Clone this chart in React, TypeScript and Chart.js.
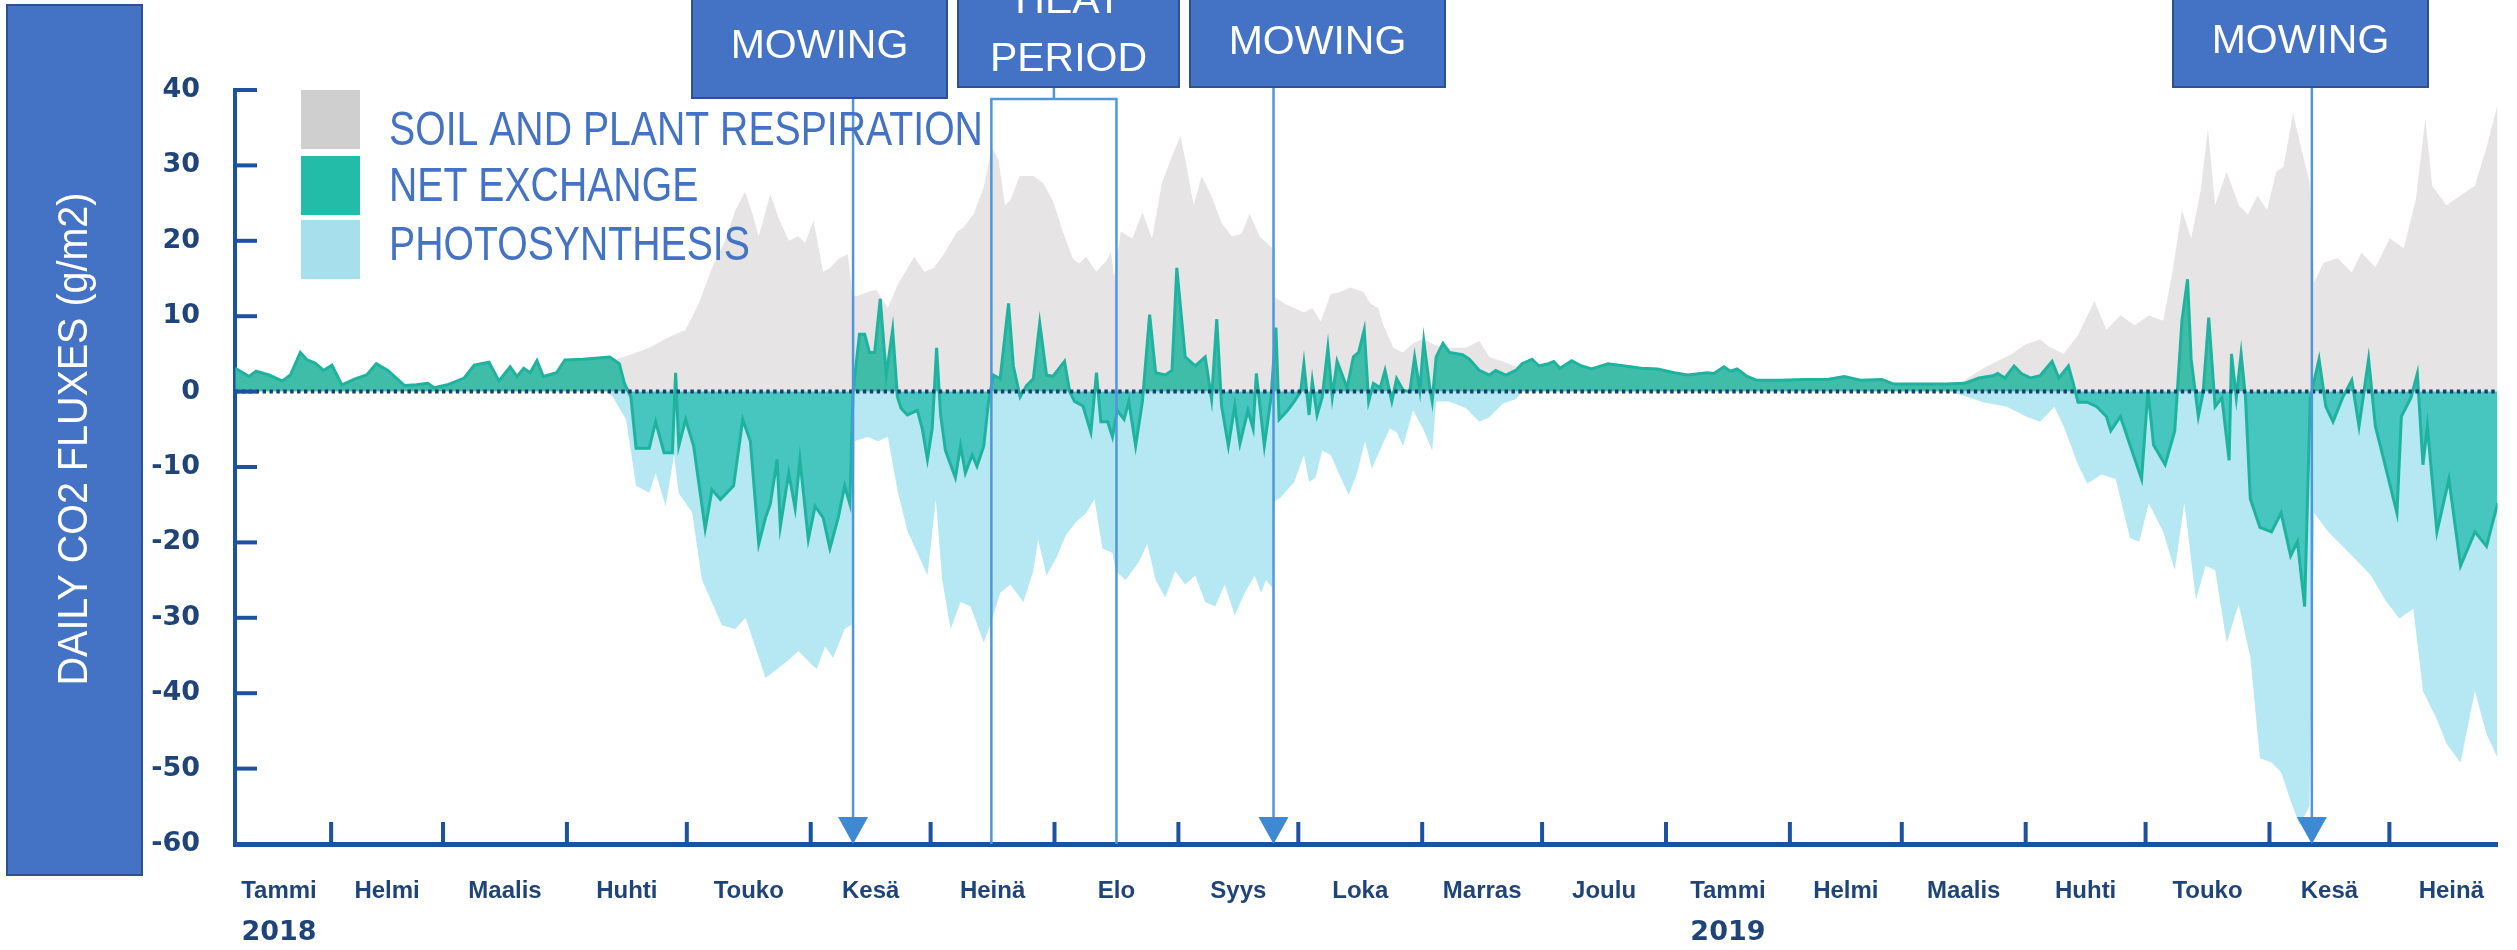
import React, { useEffect, useRef } from 'react';
import { Chart, registerables } from 'chart.js';

Chart.register(...registerables);

// x = day number counted from 1 Jan 2018 (day 0), y = g CO2 / m2 per day
const netExchange: [number, number][] = [
  [7.0, 3.1], [10.5, 2.0], [12.2, 2.7], [15.5, 2.2], [18.8, 1.4], [20.8, 2.2], [23.3, 5.2], [25.0, 4.2], [27.0, 3.8],
  [29.1, 2.8], [31.2, 3.5], [33.7, 0.9], [37.0, 1.7], [39.9, 2.2], [42.3, 3.7], [45.2, 2.8], [49.4, 0.8], [52.3, 0.9],
  [55.2, 1.1], [56.8, 0.5], [60.1, 0.9], [64.3, 1.8], [66.8, 3.5], [70.5, 3.9], [73.0, 1.4], [75.8, 3.3], [77.5, 2.0],
  [79.2, 3.1], [80.8, 2.5], [82.5, 4.1], [84.1, 2.0], [87.4, 2.5], [89.5, 4.2], [94.0, 4.3], [100.7, 4.6], [103.1, 3.7],
  [104.4, 1.1], [106.0, -0.7], [107.3, -7.5], [110.6, -7.5], [112.2, -4.0], [114.3, -8.1], [116.4, -8.1], [117.2, 2.5],
  [118.0, -7.2], [119.7, -3.7], [121.7, -7.2], [124.6, -18.2], [126.3, -13.0], [128.4, -14.3], [131.7, -12.5],
  [134.0, -3.7], [135.9, -6.6], [138.0, -20.2], [139.7, -16.7], [140.9, -14.9], [142.6, -9.0], [143.4, -17.9],
  [145.5, -10.8], [147.1, -15.5], [148.3, -9.0], [150.4, -19.6], [152.1, -15.2], [154.1, -16.7], [155.8, -20.8],
  [157.9, -16.7], [159.5, -12.5], [160.8, -14.9], [161.6, 0], [163.2, 7.6], [164.5, 7.6], [165.7, 5.2], [167.0, 5.2],
  [168.4, 12.3], [169.9, 2.2], [171.5, 8.2], [172.7, -0.7], [173.6, -2.2], [175.2, -3.1], [177.7, -2.5], [178.9, -4.9],
  [180.2, -9.0], [181.4, -4.9], [182.5, 5.8], [183.5, -3.1], [184.7, -7.8], [187.2, -11.4], [188.5, -7.2], [189.7, -10.8],
  [191.4, -8.4], [192.6, -9.9], [194.3, -7.2], [195.5, -1.3], [196.7, 2.2], [198.4, 1.7], [200.5, 11.7], [201.7, 3.4],
  [203.4, -0.7], [205.0, 0.8], [206.7, 1.7], [208.3, 9.1], [210.0, 2.2], [211.6, 2.0], [214.5, 4.0], [215.8, 0],
  [217.0, -1.3], [219.1, -1.9], [221.1, -5.4], [222.5, 2.5], [223.6, -4.0], [225.3, -4.0], [226.5, -6.0], [227.7, -2.5],
  [229.4, -3.7], [230.6, -1.3], [232.3, -7.2], [234.0, -1.3], [235.8, 10.2], [237.3, 2.5], [239.7, 2.2], [241.4, 2.8],
  [242.6, 16.4], [244.7, 4.6], [247.2, 3.4], [249.7, 4.6], [251.3, -1.0], [252.6, 9.6], [253.8, -1.9], [255.5, -7.2],
  [257.1, -1.9], [258.4, -6.9], [260.4, -2.5], [261.7, -4.9], [262.5, 2.4], [264.5, -7.2], [266.2, -0.7], [267.4, 8.5],
  [268.2, -3.7], [270.3, -2.5], [272.0, -1.3], [273.6, 0], [274.4, 3.7], [275.7, -3.1], [276.5, 1.4], [277.7, -3.1],
  [279.0, -0.7], [280.4, 5.8], [281.5, -0.7], [282.7, 4.0], [285.2, 0.5], [286.8, 4.6], [288.1, 5.2], [289.5, 8.2],
  [290.6, -1.3], [291.8, 1.1], [293.5, 0.5], [294.7, 2.8], [296.4, -1.3], [297.6, 1.7], [299.2, 0.2], [300.9, 0],
  [302.1, 4.6], [303.4, 0.2], [304.4, 6.7], [305.9, 0.5], [306.5, -1.3], [307.5, 4.6], [309.2, 6.4], [310.8, 5.2],
  [314.1, 4.9], [315.8, 4.3], [318.3, 2.8], [320.8, 2.2], [322.4, 2.8], [324.9, 2.2], [327.4, 2.8], [329.0, 3.7],
  [331.5, 4.3], [333.2, 3.4], [335.6, 3.7], [336.9, 4.0], [338.5, 3.1], [341.4, 4.1], [343.9, 3.4], [346.4, 3.0],
  [350.5, 3.7], [354.7, 3.4], [358.8, 3.1], [362.9, 3.0], [367.1, 2.5], [370.4, 2.2], [375.3, 2.5], [377.0, 2.4],
  [379.5, 3.3], [381.1, 2.7], [382.8, 3.0], [385.3, 2.0], [387.8, 1.5], [393.6, 1.5], [399.5, 1.6], [405.4, 1.6],
  [409.6, 2.0], [413.7, 1.5], [419.0, 1.6], [422.0, 1.0], [429.1, 1.0], [435.0, 1.0], [439.7, 1.1], [443.3, 1.8],
  [446.8, 2.1], [448.0, 2.4], [449.8, 1.8], [452.1, 3.4], [453.9, 2.4], [456.3, 1.8], [458.6, 2.1], [461.6, 4.0],
  [463.3, 1.8], [465.7, 3.4], [466.9, 1.1], [468.1, -1.4], [470.4, -1.4], [472.8, -2.0], [475.2, -3.3], [476.3, -5.2],
  [478.7, -3.3], [481.1, -7.1], [484.0, -11.6], [485.6, 0.2], [487.0, -7.1], [489.9, -9.7], [492.3, -5.2], [494.1, 9.4],
  [495.5, 14.9], [496.4, 4.3], [498.2, -3.3], [499.4, -0.1], [500.8, 9.8], [502.4, -2.0], [504.1, -0.8], [505.9, -9.1],
  [506.5, 5.0], [507.7, -0.8], [508.9, 5.0], [510.0, -0.8], [511.2, -14.2], [513.6, -18.0], [516.5, -18.6],
  [518.9, -16.1], [521.3, -21.8], [523.0, -19.9], [524.8, -28.5], [526.2, -0.8], [528.4, 4.3], [530.1, -2.0],
  [531.9, -4.0], [534.3, -0.8], [536.6, 1.5], [538.4, -4.6], [540.8, 4.3], [542.5, -4.6], [544.3, -8.4], [547.9, -16.1],
  [549.0, -3.3], [551.4, -0.8], [553.0, 2.4], [554.4, -9.7], [555.5, -4.6], [557.9, -18.6], [560.9, -11.6],
  [563.8, -23.1], [567.4, -18.6], [570.3, -20.5], [573.1, -14.8],
];

const respiration: [number, number | null][] = [
  [101.0, 4.6], [102.3, 4.3], [106.4, 5.0], [110.6, 5.8], [114.7, 7.0], [119.7, 8.2], [123.0, 11.7], [126.3, 16.4],
  [129.6, 20.0], [132.1, 24.0], [134.6, 26.5], [136.4, 23.6], [138.0, 20.6], [140.9, 26.2], [143.0, 23.0], [145.5, 20.0],
  [147.9, 20.6], [149.6, 19.7], [151.7, 22.7], [154.1, 15.9], [155.8, 16.4], [157.9, 17.6], [160.3, 18.2], [161.4, 12.9],
  [162.4, 12.6], [165.3, 13.2], [167.4, 13.5], [170.3, 11.1], [172.7, 14.1], [176.9, 17.9], [179.4, 15.9], [181.8, 16.4],
  [184.3, 18.2], [187.6, 21.2], [189.3, 21.8], [191.8, 23.6], [194.3, 27.1], [196.3, 32.4], [198.0, 30.7], [199.6, 24.7],
  [200.9, 25.3], [203.3, 28.6], [206.7, 28.6], [209.1, 27.7], [211.6, 25.3], [214.1, 21.2], [216.6, 17.6], [218.2, 17.0],
  [219.9, 17.9], [222.4, 15.9], [224.9, 17.3], [226.1, 18.5], [226.9, 15.3], [228.6, 21.2], [231.5, 20.3], [234.0, 23.8],
  [236.4, 20.3], [238.9, 27.7], [241.4, 31.2], [243.5, 33.9], [245.1, 29.8], [246.8, 24.7], [248.8, 28.6], [251.3, 25.9],
  [253.8, 22.4], [256.3, 20.6], [258.8, 20.9], [260.8, 23.6], [263.3, 20.6], [266.5, 19.0], [267.2, 12.5], [269.5, 11.7],
  [272.0, 11.1], [274.4, 10.5], [276.5, 11.1], [278.6, 9.3], [281.1, 12.9], [283.5, 13.2], [286.0, 13.8], [289.3, 13.2],
  [291.0, 11.7], [293.0, 11.1], [294.3, 8.8], [296.8, 5.8], [299.2, 5.2], [301.7, 6.4], [304.2, 7.0], [307.5, 6.1],
  [310.8, 5.8], [315.0, 5.8], [318.3, 6.7], [320.8, 4.6], [324.1, 4.0], [328.0, 3.2],
  [380.0, null],
  [438.5, 1.1], [444.4, 3.1], [451.5, 5.0], [455.1, 6.3], [458.6, 6.9], [461.0, 5.9], [464.5, 5.0], [468.1, 7.5],
  [472.2, 12.0], [475.2, 8.2], [478.7, 10.1], [482.3, 8.8], [485.8, 10.1], [489.4, 9.4], [491.7, 15.8], [494.1, 24.1],
  [496.4, 20.3], [498.8, 26.7], [500.6, 34.9], [502.4, 24.7], [505.3, 29.2], [508.3, 24.7], [510.6, 23.5], [513.0, 26.0],
  [515.4, 24.1], [517.7, 29.2], [519.5, 29.8], [521.9, 36.9], [523.6, 33.0], [526.0, 27.9], [527.2, 14.5], [529.5, 17.1],
  [533.1, 17.7], [536.6, 15.8], [539.0, 18.4], [542.5, 16.5], [546.1, 20.3], [549.6, 19.0], [552.6, 25.4], [555.0, 36.2],
  [556.7, 27.3], [560.3, 24.7], [563.8, 26.0], [567.4, 27.3], [570.3, 32.4], [573.1, 38.1],
];

const photosynthesis: [number, number | null][] = [
  [100.0, 0], [101.5, -0.7], [104.8, -3.7], [107.3, -12.5], [110.6, -13.4], [112.2, -10.8], [114.7, -15.2], [116.8, -8.4],
  [118.0, -13.5], [121.3, -16.0], [123.8, -25.0], [126.3, -28.0], [128.8, -31.0], [132.1, -31.5], [134.7, -30.0],
  [136.4, -32.7], [139.7, -38.0], [142.6, -36.8], [145.5, -35.6], [147.9, -34.4], [151.2, -36.2], [152.5, -36.8],
  [154.6, -33.8], [156.6, -35.3], [159.5, -31.5], [161.2, -30.9], [162.0, -6.6], [165.3, -6.0], [167.8, -6.6],
  [170.3, -6.0], [172.7, -13.1], [175.2, -18.5], [177.7, -21.4], [180.2, -24.4], [182.3, -14.3], [183.9, -25.0],
  [186.0, -31.5], [188.5, -27.9], [191.0, -28.5], [194.3, -33.3], [196.7, -29.7], [198.4, -26.7], [200.9, -25.6],
  [204.2, -27.9], [206.7, -23.8], [207.9, -19.6], [210.0, -24.4], [212.5, -22.0], [214.9, -19.0], [217.4, -17.3],
  [219.9, -16.1], [222.0, -14.3], [224.0, -20.8], [226.5, -21.4], [227.3, -23.8], [229.8, -25.0], [233.1, -22.6],
  [235.2, -20.2], [237.3, -25.0], [239.7, -27.3], [242.2, -23.8], [244.7, -25.6], [247.2, -24.4], [249.7, -27.9],
  [252.2, -28.5], [254.6, -25.6], [257.1, -29.7], [259.6, -26.7], [262.1, -24.4], [263.7, -26.7], [264.9, -25.0],
  [266.5, -26.0], [267.2, -14.5], [268.6, -14.0], [272.0, -12.0], [274.4, -8.4], [275.7, -12.0], [277.3, -11.4],
  [279.0, -7.8], [281.1, -8.4], [283.1, -10.8], [285.6, -13.7], [287.7, -10.8], [289.7, -6.6], [291.4, -10.2],
  [293.9, -7.2], [295.9, -4.9], [297.6, -5.4], [299.2, -7.2], [301.7, -2.5], [304.2, -4.9], [306.5, -7.8], [307.5, -1.3],
  [310.8, -1.3], [315.0, -2.2], [318.3, -4.0], [320.8, -3.4], [324.1, -1.6], [327.4, -1.0], [329.0, 0],
  [380.0, null],
  [436.0, 0], [438.5, -0.4], [444.4, -1.4], [450.3, -2.0], [455.1, -3.3], [458.6, -4.0], [462.2, -2.0], [464.5, -4.6],
  [468.1, -9.7], [470.4, -12.2], [474.0, -11.0], [477.5, -11.6], [481.1, -19.4], [483.4, -19.9], [485.8, -14.8],
  [489.4, -18.6], [492.3, -23.7], [494.7, -14.8], [497.6, -27.6], [500.0, -23.1], [502.4, -23.7], [505.3, -33.3],
  [508.3, -28.2], [511.2, -35.2], [513.6, -48.6], [516.5, -49.2], [518.9, -50.5], [521.3, -54.3], [523.6, -57.5],
  [526.0, -55.0], [527.2, -16.1], [530.7, -18.6], [534.3, -20.5], [537.8, -22.4], [541.4, -24.4], [544.9, -27.6],
  [548.5, -30.1], [552.0, -28.8], [554.4, -39.7], [557.9, -43.5], [560.3, -46.7], [563.8, -49.2], [567.4, -39.7],
  [570.3, -45.4], [573.1, -48.6],
];

const monthStartDays = [0, 31, 59, 90, 120, 151, 181, 212, 243, 273, 304, 334, 365, 396, 424, 455, 485, 516, 546, 577];
const monthLabels = ['Tammi', 'Helmi', 'Maalis', 'Huhti', 'Touko', 'Kesä', 'Heinä', 'Elo', 'Syys', 'Loka', 'Marras',
  'Joulu', 'Tammi', 'Helmi', 'Maalis', 'Huhti', 'Touko', 'Kesä', 'Heinä'];
const yearLabels = ['2018', '2019'];
const yearMonthIndex = [0, 12];
const mowingDays = [161.6, 266.8, 526.6];
const heatPeriodDays = [196.2, 227.5];
const X_MIN = 6.95;
const X_MAX = 573.06;

const OFFICE = '#4472c4';
const OFFICE_EDGE = '#2f528f';
const AXIS = '#1c52a0';
const LABEL = '#1f4479';
const ANNOT = '#5096da';

const labelDays = monthLabels.map((_, i) =>
  Math.max((monthStartDays[i] + monthStartDays[i + 1]) / 2, X_MIN + 11));

const mowingBoxes = [
  { left: 692, right: 947, bottom: 98, textY: 47 },
  { left: 1190, right: 1445, bottom: 87, textY: 43 },
  { left: 2173, right: 2428, bottom: 87, textY: 42 },
];
const heatBox = { left: 958, right: 1179, bottom: 87 };

const legendItems = [
  { label: 'SOIL AND PLANT RESPIRATION', color: '#cfcfcf', top: 90, textY: 131 },
  { label: 'NET EXCHANGE', color: '#22bca8', top: 156, textY: 187 },
  { label: 'PHOTOSYNTHESIS', color: '#a7e0ec', top: 220, textY: 246 },
];

const decorPlugin = {
  id: 'decor',
  afterDatasetsDraw(chart: any) {
    const { ctx, chartArea: a } = chart;
    const x = chart.scales.x;
    const y = chart.scales.y;
    ctx.save();
    const y0 = y.getPixelForValue(0);
    ctx.strokeStyle = '#153f6e';
    ctx.lineWidth = 4;
    ctx.setLineDash([3.4, 3.5]);
    ctx.beginPath();
    ctx.moveTo(a.left, y0);
    ctx.lineTo(a.right, y0);
    ctx.stroke();
    ctx.setLineDash([]);

    mowingDays.forEach((d, i) => {
      const px = x.getPixelForValue(d);
      ctx.strokeStyle = ANNOT;
      ctx.lineWidth = 2.5;
      ctx.beginPath();
      ctx.moveTo(px, mowingBoxes[i].bottom);
      ctx.lineTo(px, a.bottom - 26);
      ctx.stroke();
      ctx.fillStyle = '#3f88d2';
      ctx.beginPath();
      ctx.moveTo(px - 15, a.bottom - 27);
      ctx.lineTo(px + 15, a.bottom - 27);
      ctx.lineTo(px, a.bottom);
      ctx.closePath();
      ctx.fill();
    });

    const hl = x.getPixelForValue(heatPeriodDays[0]);
    const hr = x.getPixelForValue(heatPeriodDays[1]);
    const hc = (hl + hr) / 2;
    ctx.strokeStyle = ANNOT;
    ctx.lineWidth = 2.5;
    ctx.beginPath();
    ctx.moveTo(hl, a.bottom);
    ctx.lineTo(hl, 99);
    ctx.lineTo(hr, 99);
    ctx.lineTo(hr, a.bottom);
    ctx.moveTo(hc, heatBox.bottom);
    ctx.lineTo(hc, 99);
    ctx.stroke();
    ctx.restore();
  },
  afterDraw(chart: any) {
    const { ctx, chartArea: a } = chart;
    const x = chart.scales.x;
    const y = chart.scales.y;
    ctx.save();

    ctx.strokeStyle = AXIS;
    ctx.lineWidth = 4;
    y.ticks.forEach((t: any) => {
      if (t.value <= y.min) return;
      const py = y.getPixelForValue(t.value);
      ctx.beginPath();
      ctx.moveTo(a.left, py);
      ctx.lineTo(a.left + 22, py);
      ctx.stroke();
    });
    monthStartDays.forEach((d) => {
      if (d <= x.min || d >= x.max) return;
      const px = x.getPixelForValue(d);
      ctx.beginPath();
      ctx.moveTo(px, a.bottom - 22);
      ctx.lineTo(px, a.bottom);
      ctx.stroke();
    });

    ctx.fillStyle = LABEL;
    ctx.font = 'bold 27px "DejaVu Sans", sans-serif';
    ctx.textAlign = 'center';
    ctx.textBaseline = 'middle';
    yearLabels.forEach((lab, i) => {
      ctx.fillText(lab, x.getPixelForValue(labelDays[yearMonthIndex[i]]), 933);
    });

    ctx.fillStyle = OFFICE;
    ctx.fillRect(7, 5, 135, 870);
    ctx.strokeStyle = OFFICE_EDGE;
    ctx.lineWidth = 2;
    ctx.strokeRect(7, 5, 135, 870);
    ctx.save();
    ctx.translate(75, 439);
    ctx.rotate(-Math.PI / 2);
    ctx.scale(0.94, 1);
    ctx.fillStyle = '#ffffff';
    ctx.font = '42px "Liberation Sans", Arial, sans-serif';
    ctx.textAlign = 'center';
    ctx.textBaseline = 'middle';
    ctx.fillText('DAILY CO2 FLUXES (g/m2)', 0, 0);
    ctx.restore();

    legendItems.forEach((it) => {
      ctx.fillStyle = it.color;
      ctx.fillRect(301, it.top, 59, 59);
      ctx.save();
      ctx.translate(389, it.textY);
      ctx.scale(0.8, 1);
      ctx.fillStyle = OFFICE;
      ctx.font = '49px "Liberation Sans", Arial, sans-serif';
      ctx.textAlign = 'left';
      ctx.textBaseline = 'middle';
      ctx.fillText(it.label, 0, 0);
      ctx.restore();
    });

    const drawBox = (l: number, r: number, b: number) => {
      ctx.fillStyle = OFFICE;
      ctx.fillRect(l, -10, r - l, b + 10);
      ctx.strokeStyle = OFFICE_EDGE;
      ctx.lineWidth = 2;
      ctx.strokeRect(l, -10, r - l, b + 10);
    };
    ctx.font = '41px "Liberation Sans", Arial, sans-serif';
    ctx.textAlign = 'center';
    ctx.textBaseline = 'middle';
    mowingBoxes.forEach((bx) => {
      drawBox(bx.left, bx.right, bx.bottom);
      ctx.fillStyle = '#ffffff';
      ctx.fillText('MOWING', (bx.left + bx.right) / 2, bx.textY);
    });
    drawBox(heatBox.left, heatBox.right, heatBox.bottom);
    ctx.fillStyle = '#ffffff';
    const hcx = (heatBox.left + heatBox.right) / 2;
    ctx.fillText('HEAT', hcx, 2);
    ctx.fillText('PERIOD', hcx, 60);

    ctx.restore();
  },
};

export default function App() {
  const ref = useRef<HTMLCanvasElement>(null);
  useEffect(() => {
    if (!ref.current) return;
    const chart = new Chart(ref.current, {
      type: 'line',
      data: {
        datasets: [
          {
            label: 'NET EXCHANGE',
            data: netExchange.map(([d, v]) => ({ x: d, y: v })),
            borderColor: '#1fb39f',
            borderWidth: 3,
            fill: { target: 'origin', above: '#3fbda9', below: '#47c5bf' },
            pointRadius: 0,
            tension: 0,
            order: 0,
          },
          {
            label: 'SOIL AND PLANT RESPIRATION',
            data: respiration.map(([d, v]) => ({ x: d, y: v })),
            borderColor: 'rgba(0,0,0,0)',
            borderWidth: 0,
            backgroundColor: '#e6e4e4',
            fill: 'origin',
            pointRadius: 0,
            tension: 0,
            order: 2,
          },
          {
            label: 'PHOTOSYNTHESIS',
            data: photosynthesis.map(([d, v]) => ({ x: d, y: v })),
            borderColor: 'rgba(0,0,0,0)',
            borderWidth: 0,
            backgroundColor: '#b5e8f2',
            fill: 'origin',
            pointRadius: 0,
            tension: 0,
            order: 1,
          },
        ] as any,
      },
      options: {
        animation: false,
        responsive: false,
        events: [],
        layout: { padding: { top: 90, left: 0, right: 0, bottom: 0 } },
        plugins: { legend: { display: false }, tooltip: { enabled: false } },
        scales: {
          x: {
            type: 'linear',
            min: X_MIN,
            max: X_MAX,
            z: 1,
            afterFit: (s: any) => { s.height = 106; },
            afterBuildTicks: (s: any) => { s.ticks = labelDays.map((v) => ({ value: v })); },
            ticks: {
              autoSkip: false,
              maxRotation: 0,
              padding: 33,
              color: LABEL,
              font: { family: '"Liberation Sans", Arial, sans-serif', size: 24, weight: 'bold' },
              callback: (_v: any, i: number) => monthLabels[i],
            },
            grid: { display: false, drawTicks: false },
            border: { display: true, width: 5, color: AXIS },
          },
          y: {
            min: -60,
            max: 40,
            z: 1,
            afterFit: (s: any) => { s.width = 235; },
            ticks: {
              stepSize: 10,
              padding: 35,
              color: LABEL,
              font: { family: '"DejaVu Sans", sans-serif', size: 27, weight: 'bold' },
            },
            grid: { display: false, drawTicks: false },
            border: { display: true, width: 4, color: AXIS },
          },
        },
      } as any,
      plugins: [decorPlugin],
    });
    return () => chart.destroy();
  }, []);
  return (
    <div style={{ position: 'absolute', left: 0, top: 0, width: 2517, height: 950, background: '#ffffff' }}>
      <canvas ref={ref} width={2517} height={950} style={{ display: 'block', width: 2517, height: 950 }} />
    </div>
  );
}
